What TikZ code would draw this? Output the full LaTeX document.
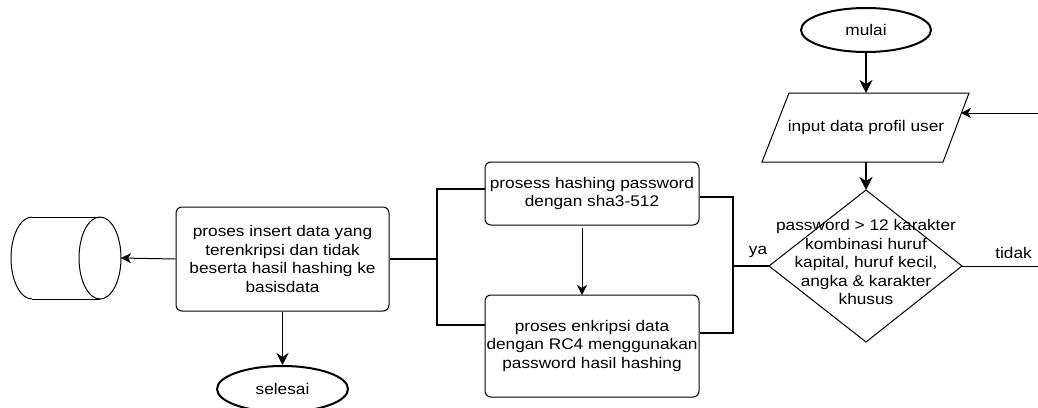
\documentclass[tikz,border=0pt]{standalone}
\usepackage{fontspec}
\setmainfont{Liberation Sans}[FakeStretch=1.12]
\usetikzlibrary{arrows.meta,shapes.geometric}
\begin{document}
\begin{tikzpicture}[x=1pt,y=-1pt,
  every node/.style={font=\fontsize{15.4pt}{18.5pt}\selectfont, text=black},
  thin line/.style={line width=1pt},
  thick line/.style={line width=2pt},
  procbox/.style={draw, line width=1pt, rounded corners=6pt, align=center, inner sep=0pt},
  term/.style={draw, ellipse, line width=2pt, inner sep=0pt, minimum width=130pt, minimum height=44pt},
  thinarrow/.style={line width=1pt, -{Stealth[length=10pt,width=10pt,inset=3pt]}},
  thickarrow/.style={line width=2pt, -{Stealth[length=13pt,width=13pt,inset=4pt]}},
  midarrow/.style={line width=1.4pt, -{Stealth[length=12pt,width=12pt,inset=4pt]}},
  lbl/.style={inner sep=0pt}
]
\useasboundingbox (0,0) rectangle (1038,407);

% start terminator
\node[term] (mulai) at (866,30) {mulai};

% input parallelogram
\coordinate (inTL) at (789,93);
\coordinate (inTR) at (969,93);
\coordinate (inBR) at (943,162);
\coordinate (inBL) at (762,162);
\draw[thin line] (inTL) -- (inTR) -- (inBR) -- (inBL) -- cycle;
\node[lbl] (input) at (866,128) {input data profil user};
\coordinate (inT) at (866,93);
\coordinate (inB) at (866,162);
\coordinate (inR) at (961,113);
\coordinate (back) at (1038,113);

% decision diamond
\coordinate (dT) at (866,190);
\coordinate (dR) at (962,266);
\coordinate (dB) at (866,342);
\coordinate (dL) at (769,266);
\draw[thin line] (dT) -- (dR) -- (dB) -- (dL) -- cycle;
\node[lbl, align=center] (dec) at (866,262) {password > 12 karakter\\kombinasi huruf\\kapital, huruf kecil,\\angka \& karakter\\khusus};
\coordinate (tidakEnd) at (1038,266);

% process boxes
\node[procbox, minimum width=214pt, minimum height=63pt] (hash) at (592,193.5) {prosess hashing password\\dengan sha3-512};
\node[procbox, minimum width=214pt, minimum height=102pt] (enc) at (592,346) {proses enkripsi data\\dengan RC4 menggunakan\\password hasil hashing};
\node[procbox, minimum width=213pt, minimum height=104pt] (ins) at (282.5,259) {proses insert data yang\\terenkripsi dan tidak\\beserta hasil hashing ke\\basisdata};

% end terminator
\node[term, minimum width=131pt, minimum height=46pt] (selesai) at (282.5,389) {selesai};

% database cylinder
\coordinate (dbR) at (121,258);
\draw[thin line] (32,217) -- (100,217);
\draw[thin line] (32,299) -- (100,299);
\draw[thin line] (32,217) arc[start angle=90, end angle=270, x radius=21pt, y radius=41pt];
\draw[thin line] (100,258) ellipse[x radius=21pt, y radius=41pt];

% connectors
\draw[thickarrow] (mulai.south) -- (inT);
\draw[thickarrow] (inB) -- (dT);
\draw[thinarrow] (back) -- (inR);
\draw[thin line] (dR) -- (tidakEnd);
\node[lbl] (tidak) at (1013.5,253) {tidak};

\coordinate (busR) at (733,266);
\coordinate (busRt) at (733,197);
\coordinate (busRb) at (733,333);
\draw[thick line] (dL) -- (busR);
\node[lbl] (ya) at (758,252) {ya};
\draw[thick line] (hash.east |- busRt) -- (busRt) -- (busRb) -- (enc.east |- busRb);

\coordinate (busLt) at (437,189);
\coordinate (busLb) at (437,325);
\coordinate (busL) at (437,259);
\draw[thick line] (hash.west |- busLt) -- (busLt) -- (busLb) -- (enc.west |- busLb);
\draw[thick line] (busL) -- (ins.east);

\draw[thinarrow] (582,228) -- (582,295);
\draw[thinarrow] (ins.west) -- (dbR);
\draw[midarrow] (ins.south) -- (selesai.north);
\end{tikzpicture}
\end{document}
